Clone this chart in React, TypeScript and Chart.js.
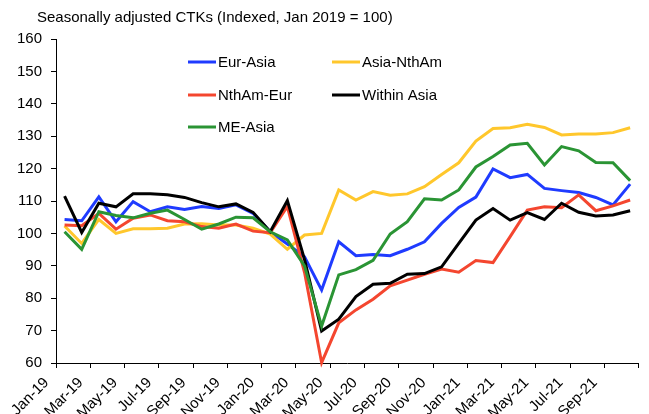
import React, { useEffect, useRef } from "react";
import { Chart, registerables } from "chart.js";

Chart.register(...registerables);

const months = [
  "Jan-19", "Feb-19", "Mar-19", "Apr-19", "May-19", "Jun-19", "Jul-19", "Aug-19", "Sep-19", "Oct-19", "Nov-19", "Dec-19",
  "Jan-20", "Feb-20", "Mar-20", "Apr-20", "May-20", "Jun-20", "Jul-20", "Aug-20", "Sep-20", "Oct-20", "Nov-20", "Dec-20",
  "Jan-21", "Feb-21", "Mar-21", "Apr-21", "May-21", "Jun-21", "Jul-21", "Aug-21", "Sep-21", "Oct-21",
];

const eurAsia = [
  104.3, 103.9, 111.3, 103.6, 109.8, 106.7, 108.2, 107.4, 108.3, 107.7, 108.8, 106.2,
  100.5, 96.7, 92.8, 82.5, 97.4, 93.1, 93.5, 93.1, 95.1, 97.4, 103.1, 108.0,
  111.2, 119.9, 117.2, 118.2, 113.9, 113.2, 112.6, 111.1, 108.8, 115.2,
];

const asiaNthAm = [
  102.3, 96.9, 104.3, 100.0, 101.4, 101.4, 101.6, 102.9, 103.0, 102.6, 102.6, 101.6,
  99.8, 95.1, 99.5, 100.0, 113.4, 110.3, 112.9, 111.8, 112.2, 114.4, 118.2, 121.8,
  128.5, 132.4, 132.6, 133.7, 132.7, 130.4, 130.7, 130.7, 131.1, 132.6,
];

const nthAmEur = [
  102.6, 102.4, 106.2, 101.3, 104.7, 105.7, 103.9, 103.6, 102.1, 101.6, 102.9, 100.7,
  100.2, 108.3, 88.0, 60.1, 72.4, 76.4, 79.7, 83.8, 85.6, 87.4, 89.0, 88.0,
  91.6, 91.0, 99.0, 107.2, 108.2, 107.9, 111.9, 107.0, 108.5, 110.3,
];

const withinAsia = [
  111.5, 100.3, 109.3, 108.2, 112.2, 112.2, 111.9, 111.1, 109.5, 108.2, 109.1, 106.5,
  100.5, 110.1, 92.0, 69.9, 73.5, 80.5, 84.3, 84.6, 87.4, 87.6, 89.7, 96.9,
  104.1, 107.7, 104.1, 106.4, 104.3, 109.3, 106.5, 105.4, 105.7, 107.0,
];

const meAsia = [
  100.5, 95.1, 106.7, 105.5, 104.8, 106.2, 107.2, 104.3, 101.3, 102.9, 105.0, 104.8,
  100.5, 98.0, 90.0, 71.4, 87.2, 88.8, 91.7, 99.8, 103.6, 110.7, 110.3, 113.4,
  120.5, 123.7, 127.3, 127.8, 121.1, 126.8, 125.5, 121.9, 121.8, 116.3,
];

const seriesNames = ["Eur-Asia", "Asia-NthAm", "NthAm-Eur", "Within Asia", "ME-Asia"];
const seriesColors = ["#1f3bff", "#ffc72c", "#f4462f", "#000000", "#2a9434"];
const seriesData = [eurAsia, asiaNthAm, nthAmEur, withinAsia, meAsia];

const titleText = "Seasonally adjusted CTKs (Indexed, Jan 2019 = 100)";
const FONT = "'Liberation Sans', Arial, sans-serif";

// legend layout: [x of sample start, y center] per series
const legendPos = [
  [188, 62],
  [332, 62],
  [188, 95],
  [332, 95],
  [188, 127],
];

const overlayPlugin = {
  id: "overlay",
  afterDraw(chart: any) {
    const ctx = chart.ctx;
    ctx.save();
    ctx.fillStyle = "#000";
    ctx.font = `15px ${FONT}`;
    ctx.textBaseline = "middle";
    ctx.textAlign = "left";
    ctx.fillText(titleText, 37, 18);
    seriesNames.forEach((name, i) => {
      const [x, y] = legendPos[i];
      ctx.strokeStyle = seriesColors[i];
      ctx.lineWidth = 3;
      ctx.beginPath();
      ctx.moveTo(x, y);
      ctx.lineTo(x + 28, y);
      ctx.stroke();
      ctx.fillStyle = "#000";
      ctx.fillText(name, x + 30, y + 1);
    });
    ctx.restore();
  },
};

export default function App() {
  const canvasRef = useRef<HTMLCanvasElement | null>(null);

  useEffect(() => {
    if (!canvasRef.current) return;
    const chart = new Chart(canvasRef.current, {
      type: "line",
      data: {
        labels: months,
        datasets: seriesData.map((d, i) => ({
          label: seriesNames[i],
          data: d,
          borderColor: seriesColors[i],
          backgroundColor: seriesColors[i],
          borderWidth: 3,
          pointRadius: 0,
          tension: 0,
          clip: false as any,
          order: seriesNames.length - i,
        })),
      },
      options: {
        animation: false,
        responsive: false,
        maintainAspectRatio: false,
        layout: { padding: { left: 0, right: 10, top: 39, bottom: 0 } },
        plugins: {
          legend: { display: false },
          title: { display: false },
          tooltip: { enabled: false },
        },
        scales: {
          x: {
            type: "category",
            offset: true,
            afterFit: (scale: any) => {
              scale.height = 51;
            },
            grid: {
              display: true,
              offset: true,
              drawOnChartArea: false,
              drawTicks: true,
              tickLength: 5,
              tickColor: (c: any) =>
                typeof c.index !== "number" || c.index % 2 === 0 ? "#000" : "rgba(0,0,0,0)",
            },
            border: { display: true, color: "#000", width: 1 },
            ticks: {
              autoSkip: false,
              maxRotation: 45,
              minRotation: 45,
              padding: 6,
              labelOffset: -18,
              color: "#000",
              font: { family: FONT, size: 15 },
              callback: (_v: any, i: number) => (i % 2 === 0 ? months[i] : ""),
            },
          },
          y: {
            min: 60,
            max: 160,
            afterFit: (scale: any) => {
              scale.width = 56;
            },
            grid: {
              display: true,
              drawOnChartArea: false,
              drawTicks: true,
              tickLength: 5,
              tickColor: "#000",
            },
            border: { display: true, color: "#000", width: 1 },
            ticks: {
              stepSize: 10,
              padding: 9,
              color: "#000",
              font: { family: FONT, size: 15 },
            },
          },
        },
      },
      plugins: [overlayPlugin],
    });
    return () => chart.destroy();
  }, []);

  return (
    <div style={{ position: "fixed", left: 0, top: 0, width: 649, height: 414, background: "#fff" }}>
      <canvas ref={canvasRef} width={649} height={414} style={{ width: 649, height: 414, display: "block" }} />
    </div>
  );
}
